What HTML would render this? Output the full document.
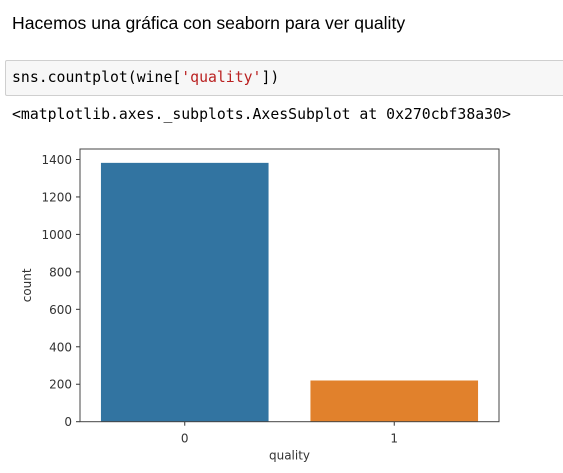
<!DOCTYPE html>
<html><head><meta charset="utf-8"><style>
body{margin:0;width:563px;height:473px;background:#fff;overflow:hidden;position:relative}
.md{position:absolute;left:12px;top:13px;font:17.6px "Liberation Sans",sans-serif;color:#000}
.cell{position:absolute;left:5px;top:60px;width:570px;height:36px;background:#f7f7f7;border:1px solid #cfcfcf;border-radius:2px;box-sizing:border-box}
.code{position:absolute;left:12px;top:69px;font:14.8px "DejaVu Sans Mono","Liberation Mono",monospace;color:#000}
.str{color:#ba2121}
.out{position:absolute;left:12px;top:106px;font:14.8px "DejaVu Sans Mono","Liberation Mono",monospace;color:#000}
svg{position:absolute;left:0;top:0}
</style></head><body>
<div class="md">Hacemos una gráfica con seaborn para ver quality</div>
<div class="cell"></div>
<div class="code">sns.countplot(wine[<span class="str">'quality'</span>])</div>
<div class="out">&lt;matplotlib.axes._subplots.AxesSubplot at 0x270cbf38a30&gt;</div>
<svg width="563" height="473" id="chart" font-family="'DejaVu Sans','Liberation Sans',sans-serif" font-size="12"></svg>
<script>
const categories=['0','1'];
const counts=[1382,220];
const colors=['#3274a1','#e1812c'];
const yTicks=[0,200,400,600,800,1000,1200,1400];
const L=80,R=499,T=149,B=421.7,yMax=1456;
const svg=document.getElementById('chart');
const NS='http://www.w3.org/2000/svg';
const y=v=>B-(v/yMax)*(B-T);
const band=(R-L)/categories.length;
const x=i=>L+band*i;
function mk(tag,attrs){const e=document.createElementNS(NS,tag);for(const k in attrs)e.setAttribute(k,attrs[k]);svg.appendChild(e);return e;}
categories.forEach((c,i)=>{
  const r=mk('rect',{x:x(i)+band*0.1,y:y(counts[i]),width:band*0.8,height:B-y(counts[i]),fill:colors[i]});
  
  
  const tk=mk('line',{x1:x(i)+band/2,x2:x(i)+band/2,y1:B,y2:B+4,stroke:'#333'});
  
  
  const t=mk('text',{x:x(i)+band/2,y:B+21,'text-anchor':'middle',fill:'#333'});t.textContent=c;
  
  
});
yTicks.forEach(v=>{
  const tk=mk('line',{x1:L-4,x2:L,y1:y(v),y2:y(v),stroke:'#333'});
  
  
  const t=mk('text',{x:L-8,y:y(v)+4.5,'text-anchor':'end',fill:'#333'});t.textContent=v;
  
  
});
const fr=mk('rect',{x:L,y:T,width:R-L,height:B-T,fill:'none',stroke:'#444','stroke-width':1});


const xt=mk('text',{x:(L+R)/2,y:B+38,'text-anchor':'middle',fill:'#333'});xt.textContent='quality';


const yt=mk('text',{x:0,y:0,'text-anchor':'middle',fill:'#333',transform:`translate(31,${(T+B)/2}) rotate(-90)`});yt.textContent='count';


</script>
</body></html>
